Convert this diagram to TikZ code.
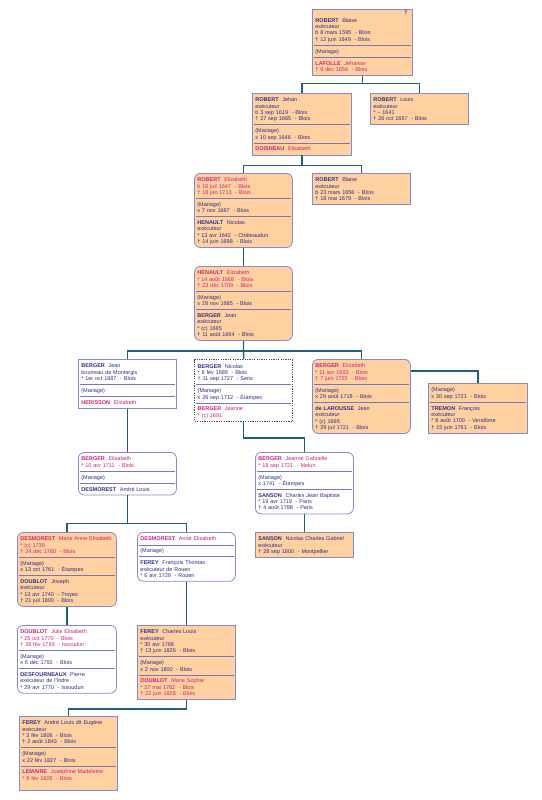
\documentclass[tikz,border=0pt]{standalone}
\usepackage{fontspec}
\setmainfont{Liberation Sans}
\usetikzlibrary{calc}
\definecolor{peach}{HTML}{FFD0A0}
\definecolor{bord}{HTML}{8888CC}
\definecolor{mc}{HTML}{2E2E8A}
\definecolor{fc}{HTML}{CC2277}
\definecolor{sepc}{HTML}{7777BB}
\definecolor{conc}{HTML}{1E5F7A}
\newcommand\nm[2]{\mbox{\textbf{#1}\ \ #2}}
\newcommand\fem[1]{{\color{fc}#1}}
\newcommand\sepl{\vrule width0pt height0pt depth2pt\par\nointerlineskip\kern1.6pt\moveleft1.5pt\vbox{\color{sepc}\hrule width\dimexpr\hsize+3pt\relax height.7pt}\nointerlineskip\kern3.3pt\leavevmode\vrule width0pt height4.3pt depth0pt\ignorespaces}
\tikzset{
  firsth/.store in=\firsth, firsth=6.5pt,
  lastd/.store in=\lastd, lastd=2pt,
  box/.style={draw=bord, line width=0.8pt, anchor=north west, inner xsep=3pt, inner ysep=2pt,
    text width=92pt, align=left, font=\fontsize{5.5}{6.3}\selectfont, text=mc,
    execute at begin node={\lineskiplimit=-10pt\vrule width0pt height\firsth depth0pt},
    execute at end node={\vrule width0pt height0pt depth\lastd}},
  pch/.style={box, fill=peach},
  wht/.style={box, fill=white},
  rnd/.style={rounded corners=6pt},
  dsh/.style={box, fill=white, draw=gray!60!black, line width=1.4pt, dash pattern=on 1.2pt off 1.2pt},
  conn/.style={draw=conc, line width=1.3pt},
}
\begin{document}
\begin{tikzpicture}[x=1pt,y=-1pt]
\useasboundingbox (0,0) rectangle (541,800);

\node[pch, firsth=11pt, text width=94pt] (b1) at (312,9) {\nm{ROBERT}{Blaise}\\ exécuteur\\ b 8 mars 1595~~- Blois\\ † 12 juin 1649~~- Blois\sepl (Mariage)\sepl \fem{\nm{LAFOLLE}{Jehanne}}\\ \fem{† 9 déc 1656~~- Blois}};
\node[font=\fontsize{6}{6}\selectfont\bfseries, text=mc, inner sep=0pt] (b1d) at (406,13) {†};

\node[pch, text width=93pt] (b2) at (252,93) {\nm{ROBERT}{Jehan}\\ exécuteur\\ b 3 sep 1619~~- Blois\\ † 27 sep 1665~~- Blois\sepl (Mariage)\\ x 10 sep 1646~~- Blois\sepl \fem{\nm{DOISNEAU}{Elisabeth}}};
\node[pch] (b3) at (370,93) {\nm{ROBERT}{Louis}\\ exécuteur\\{}* \textasciitilde{} 1641\\ † 26 oct 1667~~- Blois};

\node[pch, rnd] (b4) at (194,173) {\fem{\nm{ROBERT}{Elizabeth}}\\ \fem{b 16 juil 1647~~- Blois}\\ \fem{† 18 jan 1713~~- Blois}\sepl (Mariage)\\ x 7 nov 1667~~- Blois\sepl \nm{HENAULT}{Nicolas}\\ exécuteur\\{}* 13 avr 1642~~- Châteaudun\\ † 14 juin 1698~~- Blois};
\node[pch] (b5) at (312,173) {\nm{ROBERT}{Blaise}\\ exécuteur\\ b 23 mars 1656~~- Blois\\ † 18 mai 1679~~- Blois};

\node[pch, rnd] (b6) at (194,266) {\fem{\nm{HENAULT}{Elizabeth}}\\ \fem{* 14 août 1668~~- Blois}\\ \fem{† 23 déc 1709~~- Blois}\sepl (Mariage)\\ x 28 nov 1685~~- Blois\sepl \nm{BERGER}{Jean}\\ exécuteur\\{}* (c) 1665\\ † 11 août 1694~~- Blois};

\node[wht] (b7) at (78,359) {\nm{BERGER}{Jean}\\ bourreau de Montargis\\{}* 1er oct 1687~~- Blois\sepl (Mariage)\sepl \fem{\nm{HERISSON}{Elizabeth}}};
\node[dsh] (b8) at (194,359) {\nm{BERGER}{Nicolas}\\{}* 8 fév 1689~~- Blois\\ † 11 sep 1727~~- Sens\sepl (Mariage)\\ x 26 sep 1712~~- Étampes\sepl \fem{\nm{BERGER}{Jeanne}}\\ \fem{* (c) 1691}};
\node[pch, rnd] (b9) at (312,359) {\fem{\nm{BERGER}{Elizabeth}}\\ \fem{* 11 avr 1693~~- Blois}\\ \fem{† 7 juin 1725~~- Blois}\sepl (Mariage)\\ x 29 août 1718~~- Blois\sepl \nm{de LAROUSSE}{Jean}\\ exécuteur\\{}* (c) 1695\\ † 29 juil 1721~~- Blois};
\node[pch, text width=93pt] (b10) at (428,383) {(Mariage)\\ x 30 sep 1721~~- Blois\sepl \nm{TREMON}{François}\\ exécuteur\\{}* 8 août 1700~~- Vendôme\\ † 15 juin 1761~~- Blois};

\node[wht, rnd] (b11) at (78,452) {\fem{\nm{BERGER}{Elisabeth}}\\ \fem{* 10 avr 1711~~- Blois}\sepl (Mariage)\sepl \nm{DESMOREST}{André Louis}};
\node[wht, rnd] (b12) at (255,452) {\fem{\nm{BERGER}{Jeanne Gabrielle}}\\ \fem{* 18 sep 1721~~- Melun}\sepl (Mariage)\\ x 1741~~- Étampes\sepl \nm{SANSON}{Charles Jean Baptiste}\\{}* 19 avr 1719~~- Paris\\ † 4 août 1788~~- Paris};
\node[pch] (b13) at (255,532) {\nm{SANSON}{Nicolas Charles Gabriel}\\ exécuteur\\ † 28 sep 1800~~- Montpellier};

\node[pch, rnd, text width=93pt] (b14) at (17,532) {\fem{\nm{DESMOREST}{Marie Anne Elisabeth}}\\ \fem{* (c) 1739}\\ \fem{† 24 déc 1780~~- Blois}\sepl (Mariage)\\ x 13 oct 1761~~- Étampes\sepl \nm{DOUBLOT}{Joseph}\\ exécuteur\\{}* 13 avr 1740~~- Troyes\\ † 21 juil 1800~~- Blois};
\node[wht, rnd] (b15) at (137,532) {\fem{\nm{DESMOREST}{Anne Elisabeth}}\sepl (Mariage)\sepl \nm{FEREY}{François Thomas}\\ exécuteur de Rouen\\{}* 6 avr 1729~~- Rouen};

\node[wht, rnd, text width=93pt] (b16) at (17,625) {\fem{\nm{DOUBLOT}{Julie Elisabeth}}\\ \fem{* 25 oct 1770~~- Blois}\\ \fem{† 28 fév 1793~~- Issoudun}\sepl (Mariage)\\ x 5 déc 1792~~- Blois\sepl \nm{DESFOURNEAUX}{Pierre}\\ exécuteur de l'Indre\\{}* 29 avr 1770~~- Issoudun};
\node[pch] (b17) at (137,625) {\nm{FEREY}{Charles Louis}\\ exécuteur\\{}* 30 avr 1768\\ † 13 juin 1826~~- Blois\sepl (Mariage)\\ x 2 nov 1800~~- Blois\sepl \fem{\nm{DOUBLOT}{Marie Sophie}}\\ \fem{* 27 mai 1782~~- Blois}\\ \fem{† 22 juin 1828~~- Blois}};

\node[pch, lastd=8pt] (b18) at (19,716) {\nm{FEREY}{André Louis dit Eugène}\\ exécuteur\\{}* 3 fév 1806~~- Blois\\ † 2 août 1843~~- Blois\sepl (Mariage)\\ x 22 fév 1827~~- Blois\sepl \fem{\nm{LEMAIRE}{Joséphine Madeleine}}\\ \fem{* 9 fév 1805~~- Blois}};

% connectors
\draw[conn] (b1.south) -- ++(0,8) -| (b2.north);
\draw[conn] (b1.south) -- ++(0,8) -| (b3.north);
\draw[conn] (b2.south) -- ++(0,10) -| (b4.north);
\draw[conn] (b2.south) -- ++(0,10) -| (b5.north);
\draw[conn] (b4.south) -- (b6.north);
\draw[conn] (b6.south) -- ++(0,10) -| (b7.north);
\draw[conn] (b6.south) -- (b8.north);
\draw[conn] (b6.south) -- ++(0,10) -| (b9.north);
\draw[conn] ([yshift=-12pt]b9.north east) -| (b10.north);
\draw[conn] (b7.south) -- (b11.north);
\draw[conn] (b8.south) -- ++(0,16) -| (b12.north);
\draw[conn] (b12.south) -- (b13.north);
\draw[conn] (b11.south) -- ++(0,28) -| (b14.north);
\draw[conn] (b11.south) -- ++(0,28) -| (b15.north);
\draw[conn] (b14.south) -- (b16.north);
\draw[conn] (b15.south) -- (b17.north);
\draw[conn] (b17.south) -- ++(0,9) -| (b18.north);
\end{tikzpicture}
\end{document}
